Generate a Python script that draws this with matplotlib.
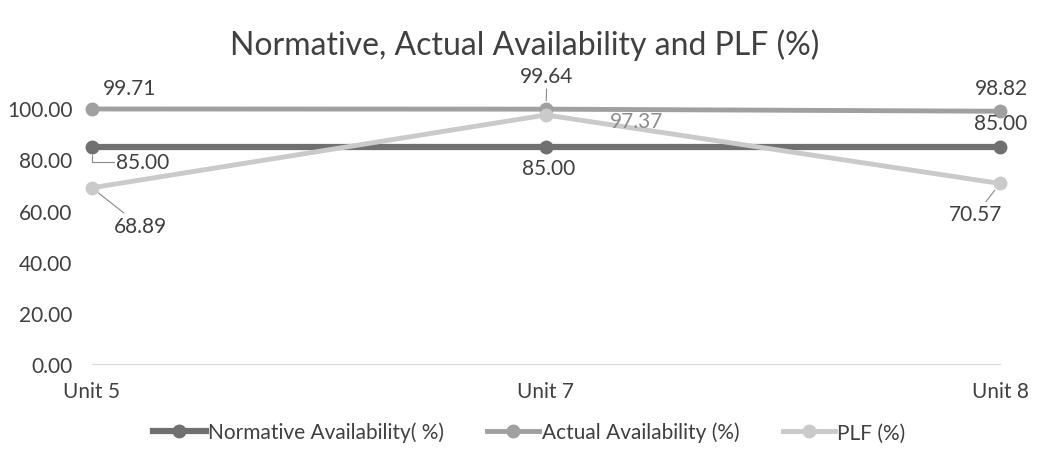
import matplotlib.pyplot as plt

plt.rcParams['font.family'] = ['Lato', 'DejaVu Sans']

units = ["Unit 5", "Unit 7", "Unit 8"]
normative = [85.00, 85.00, 85.00]
actual = [99.71, 99.64, 98.82]
plf = [68.89, 97.37, 70.57]
y_ticks = [0, 20, 40, 60, 80, 100]

fig = plt.figure(figsize=(10.38, 4.77), dpi=100)
ax = fig.add_axes([0.0886, 0.235, 0.8748, 0.536])

x = range(len(units))
series = [
    (normative, "Normative Availability( %)", "#707070", 4.5),
    (actual, "Actual Availability (%)", "#a0a0a0", 3.5),
    (plf, "PLF (%)", "#cacaca", 3.5),
]
for vals, name, col, lw in series:
    ax.plot(x, vals, color=col, lw=lw, marker="o", ms=9, label=name, clip_on=False, zorder=3)

ax.set_xlim(0, 2)
ax.set_ylim(0, 100)
ax.set_yticks(y_ticks)
ax.set_yticklabels([f"{v:.2f}" for v in y_ticks])
ax.set_xticks(list(x))
ax.set_xticklabels(units)
for s in ["top", "right", "left"]:
    ax.spines[s].set_visible(False)
ax.spines["bottom"].set_color("#d9d9d9")
ax.tick_params(length=0, labelsize=15, colors="#404040")
ax.tick_params(axis="x", pad=12)
ax.tick_params(axis="y", pad=14)

txt = dict(fontsize=15, color="#404040", ha="center", va="center", textcoords="offset pixels")
lead = dict(arrowstyle="-", color="#8a8a8a", lw=0.8, shrinkA=0, shrinkB=6)

# unit 5
ax.annotate(f"{actual[0]:.2f}", (0, actual[0]), xytext=(38, 21), **txt)
ax.annotate(f"{normative[0]:.2f}", (0, normative[0]), xytext=(51, -15),
            arrowprops=dict(connectionstyle="angle,angleA=0,angleB=90,rad=0", **lead), **txt)
ax.annotate(f"{plf[0]:.2f}", (0, plf[0]), xytext=(48, -38), arrowprops=lead, **txt)
# unit 7
ax.annotate(f"{actual[1]:.2f}", (1, actual[1]), xytext=(1, 33), arrowprops=lead, **txt)
ax.annotate(f"{plf[1]:.2f}", (1, plf[1]), xytext=(91, -6), **dict(txt, color="#8c8c8c"))
ax.annotate(f"{normative[1]:.2f}", (1, normative[1]), xytext=(3, -21), **txt)
# unit 8
ax.annotate(f"{actual[2]:.2f}", (2, actual[2]), xytext=(1, 23), **txt)
ax.annotate(f"{normative[2]:.2f}", (2, normative[2]), xytext=(1, 24), **txt)
ax.annotate(f"{plf[2]:.2f}", (2, plf[2]), xytext=(-24, -31), arrowprops=lead, **txt)

fig.text(0.505, 0.906, "Normative, Actual Availability and PLF (%)", ha="center", va="center",
         fontsize=23, color="#404040")

fig.legend(loc="center", bbox_to_anchor=(0.51, 0.092), ncol=3, frameon=False, fontsize=15,
           handlelength=2.5, handletextpad=0.1, columnspacing=2.1, labelcolor="#404040")

fig.savefig("out.png", dpi=100)
